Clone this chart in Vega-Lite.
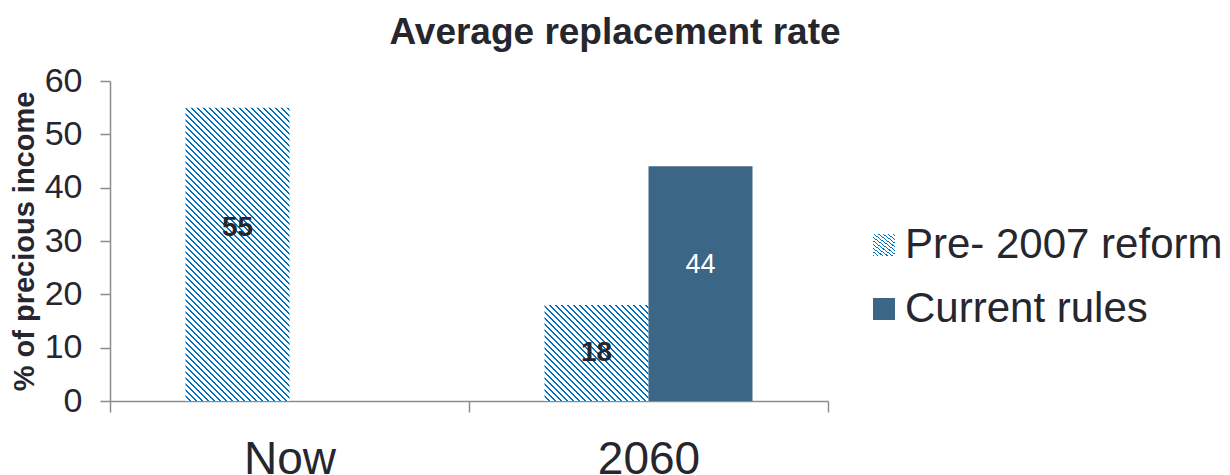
{
  "$schema": "https://vega.github.io/schema/vega-lite/v6.json",
  "width": 718,
  "height": 320,
  "autosize": {"type": "none"},
  "padding": {"left": 110, "top": 81, "right": 402, "bottom": 74},
  "background": "white",
  "config": {
    "font": "Liberation Sans",
    "view": {"stroke": null},
    "legend": {
      "orient": "none",
      "title": null,
      "padding": 0,
      "labelFontSize": 42,
      "labelColor": "#26262e",
      "labelLimit": 500,
      "labelOffset": 0,
      "symbolType": "square",
      "symbolSize": 484,
      "symbolStrokeWidth": 0
    }
  },
  "title": {
    "text": "Average replacement rate",
    "fontSize": 37,
    "fontWeight": "bold",
    "color": "#26262e",
    "frame": "group",
    "anchor": "middle",
    "baseline": "alphabetic",
    "dx": 146,
    "dy": 36,
    "offset": 19
  },
  "data": {
    "values": [
      {"period": "Now", "series": "Pre- 2007 reform", "value": 55},
      {"period": "2060", "series": "Pre- 2007 reform", "value": 18},
      {"period": "2060", "series": "Current rules", "value": 44}
    ]
  },
  "encoding": {
    "x": {
      "field": "period",
      "type": "nominal",
      "sort": ["Now", "2060"],
      "scale": {"paddingInner": 0, "paddingOuter": 0},
      "axis": {
        "title": null,
        "labelAngle": 0,
        "labelFontSize": 46,
        "labelColor": "#26262e",
        "labelPadding": 25,
        "tickBand": "extent",
        "tickSize": 11,
        "tickColor": "#8c8c8c",
        "tickWidth": 1.5,
        "domainColor": "#8c8c8c",
        "domainWidth": 1.5
      }
    },
    "xOffset": {
      "field": "series",
      "type": "nominal",
      "sort": ["Pre- 2007 reform", "Current rules"],
      "scale": {"domain": ["Pre- 2007 reform", "Current rules"], "paddingInner": 0, "paddingOuter": 0.726}
    },
    "y": {
      "field": "value",
      "type": "quantitative",
      "title": "% of precious income",
      "scale": {"domain": [0, 60], "nice": false},
      "axis": {
        "titleFontSize": 29,
        "titleFontWeight": "bold",
        "titleColor": "#26262e",
        "titlePadding": 5,
        "values": [0, 10, 20, 30, 40, 50, 60],
        "labelFontSize": 34,
        "labelColor": "#26262e",
        "labelPadding": 18,
        "tickSize": 10,
        "tickColor": "#8c8c8c",
        "tickWidth": 1.5,
        "domainColor": "#8c8c8c",
        "domainWidth": 1.5,
        "grid": false
      }
    }
  },
  "layer": [
    {
      "transform": [{"filter": "datum.series === 'Pre- 2007 reform'"}],
      "mark": {"type": "bar"},
      "encoding": {
        "color": {
          "condition": {
            "test": "datum.period === 'Now'",
            "value": {
              "gradient": "linear", "x1": 0, "y1": 1, "x2": 0.4266, "y2": -0.2033,
              "stops": [
                {"offset":0,"color":"#fff"},{"offset":0.0106,"color":"#fff"},{"offset":0.0106,"color":"#0070c0"},{"offset":0.0151,"color":"#0070c0"},
                {"offset":0.0151,"color":"#fff"},{"offset":0.0257,"color":"#fff"},{"offset":0.0257,"color":"#0070c0"},{"offset":0.0302,"color":"#0070c0"},
                {"offset":0.0302,"color":"#fff"},{"offset":0.0408,"color":"#fff"},{"offset":0.0408,"color":"#0070c0"},{"offset":0.0453,"color":"#0070c0"},
                {"offset":0.0453,"color":"#fff"},{"offset":0.0559,"color":"#fff"},{"offset":0.0559,"color":"#0070c0"},{"offset":0.0604,"color":"#0070c0"},
                {"offset":0.0604,"color":"#fff"},{"offset":0.0710,"color":"#fff"},{"offset":0.0710,"color":"#0070c0"},{"offset":0.0755,"color":"#0070c0"},
                {"offset":0.0755,"color":"#fff"},{"offset":0.0861,"color":"#fff"},{"offset":0.0861,"color":"#0070c0"},{"offset":0.0906,"color":"#0070c0"},
                {"offset":0.0906,"color":"#fff"},{"offset":0.1012,"color":"#fff"},{"offset":0.1012,"color":"#0070c0"},{"offset":0.1057,"color":"#0070c0"},
                {"offset":0.1057,"color":"#fff"},{"offset":0.1163,"color":"#fff"},{"offset":0.1163,"color":"#0070c0"},{"offset":0.1208,"color":"#0070c0"},
                {"offset":0.1208,"color":"#fff"},{"offset":0.1314,"color":"#fff"},{"offset":0.1314,"color":"#0070c0"},{"offset":0.1359,"color":"#0070c0"},
                {"offset":0.1359,"color":"#fff"},{"offset":0.1465,"color":"#fff"},{"offset":0.1465,"color":"#0070c0"},{"offset":0.1510,"color":"#0070c0"},
                {"offset":0.1510,"color":"#fff"},{"offset":0.1616,"color":"#fff"},{"offset":0.1616,"color":"#0070c0"},{"offset":0.1661,"color":"#0070c0"},
                {"offset":0.1661,"color":"#fff"},{"offset":0.1767,"color":"#fff"},{"offset":0.1767,"color":"#0070c0"},{"offset":0.1812,"color":"#0070c0"},
                {"offset":0.1812,"color":"#fff"},{"offset":0.1918,"color":"#fff"},{"offset":0.1918,"color":"#0070c0"},{"offset":0.1963,"color":"#0070c0"},
                {"offset":0.1963,"color":"#fff"},{"offset":0.2069,"color":"#fff"},{"offset":0.2069,"color":"#0070c0"},{"offset":0.2114,"color":"#0070c0"},
                {"offset":0.2114,"color":"#fff"},{"offset":0.2220,"color":"#fff"},{"offset":0.2220,"color":"#0070c0"},{"offset":0.2265,"color":"#0070c0"},
                {"offset":0.2265,"color":"#fff"},{"offset":0.2371,"color":"#fff"},{"offset":0.2371,"color":"#0070c0"},{"offset":0.2416,"color":"#0070c0"},
                {"offset":0.2416,"color":"#fff"},{"offset":0.2522,"color":"#fff"},{"offset":0.2522,"color":"#0070c0"},{"offset":0.2567,"color":"#0070c0"},
                {"offset":0.2567,"color":"#fff"},{"offset":0.2673,"color":"#fff"},{"offset":0.2673,"color":"#0070c0"},{"offset":0.2718,"color":"#0070c0"},
                {"offset":0.2718,"color":"#fff"},{"offset":0.2824,"color":"#fff"},{"offset":0.2824,"color":"#0070c0"},{"offset":0.2869,"color":"#0070c0"},
                {"offset":0.2869,"color":"#fff"},{"offset":0.2975,"color":"#fff"},{"offset":0.2975,"color":"#0070c0"},{"offset":0.3020,"color":"#0070c0"},
                {"offset":0.3020,"color":"#fff"},{"offset":0.3126,"color":"#fff"},{"offset":0.3126,"color":"#0070c0"},{"offset":0.3171,"color":"#0070c0"},
                {"offset":0.3171,"color":"#fff"},{"offset":0.3277,"color":"#fff"},{"offset":0.3277,"color":"#0070c0"},{"offset":0.3322,"color":"#0070c0"},
                {"offset":0.3322,"color":"#fff"},{"offset":0.3428,"color":"#fff"},{"offset":0.3428,"color":"#0070c0"},{"offset":0.3473,"color":"#0070c0"},
                {"offset":0.3473,"color":"#fff"},{"offset":0.3579,"color":"#fff"},{"offset":0.3579,"color":"#0070c0"},{"offset":0.3624,"color":"#0070c0"},
                {"offset":0.3624,"color":"#fff"},{"offset":0.3730,"color":"#fff"},{"offset":0.3730,"color":"#0070c0"},{"offset":0.3775,"color":"#0070c0"},
                {"offset":0.3775,"color":"#fff"},{"offset":0.3881,"color":"#fff"},{"offset":0.3881,"color":"#0070c0"},{"offset":0.3926,"color":"#0070c0"},
                {"offset":0.3926,"color":"#fff"},{"offset":0.4032,"color":"#fff"},{"offset":0.4032,"color":"#0070c0"},{"offset":0.4077,"color":"#0070c0"},
                {"offset":0.4077,"color":"#fff"},{"offset":0.4183,"color":"#fff"},{"offset":0.4183,"color":"#0070c0"},{"offset":0.4228,"color":"#0070c0"},
                {"offset":0.4228,"color":"#fff"},{"offset":0.4334,"color":"#fff"},{"offset":0.4334,"color":"#0070c0"},{"offset":0.4379,"color":"#0070c0"},
                {"offset":0.4379,"color":"#fff"},{"offset":0.4485,"color":"#fff"},{"offset":0.4485,"color":"#0070c0"},{"offset":0.4530,"color":"#0070c0"},
                {"offset":0.4530,"color":"#fff"},{"offset":0.4636,"color":"#fff"},{"offset":0.4636,"color":"#0070c0"},{"offset":0.4681,"color":"#0070c0"},
                {"offset":0.4681,"color":"#fff"},{"offset":0.4787,"color":"#fff"},{"offset":0.4787,"color":"#0070c0"},{"offset":0.4832,"color":"#0070c0"},
                {"offset":0.4832,"color":"#fff"},{"offset":0.4938,"color":"#fff"},{"offset":0.4938,"color":"#0070c0"},{"offset":0.4983,"color":"#0070c0"},
                {"offset":0.4983,"color":"#fff"},{"offset":0.5089,"color":"#fff"},{"offset":0.5089,"color":"#0070c0"},{"offset":0.5134,"color":"#0070c0"},
                {"offset":0.5134,"color":"#fff"},{"offset":0.5240,"color":"#fff"},{"offset":0.5240,"color":"#0070c0"},{"offset":0.5285,"color":"#0070c0"},
                {"offset":0.5285,"color":"#fff"},{"offset":0.5391,"color":"#fff"},{"offset":0.5391,"color":"#0070c0"},{"offset":0.5436,"color":"#0070c0"},
                {"offset":0.5436,"color":"#fff"},{"offset":0.5542,"color":"#fff"},{"offset":0.5542,"color":"#0070c0"},{"offset":0.5587,"color":"#0070c0"},
                {"offset":0.5587,"color":"#fff"},{"offset":0.5693,"color":"#fff"},{"offset":0.5693,"color":"#0070c0"},{"offset":0.5738,"color":"#0070c0"},
                {"offset":0.5738,"color":"#fff"},{"offset":0.5844,"color":"#fff"},{"offset":0.5844,"color":"#0070c0"},{"offset":0.5889,"color":"#0070c0"},
                {"offset":0.5889,"color":"#fff"},{"offset":0.5995,"color":"#fff"},{"offset":0.5995,"color":"#0070c0"},{"offset":0.6040,"color":"#0070c0"},
                {"offset":0.6040,"color":"#fff"},{"offset":0.6146,"color":"#fff"},{"offset":0.6146,"color":"#0070c0"},{"offset":0.6191,"color":"#0070c0"},
                {"offset":0.6191,"color":"#fff"},{"offset":0.6297,"color":"#fff"},{"offset":0.6297,"color":"#0070c0"},{"offset":0.6342,"color":"#0070c0"},
                {"offset":0.6342,"color":"#fff"},{"offset":0.6448,"color":"#fff"},{"offset":0.6448,"color":"#0070c0"},{"offset":0.6493,"color":"#0070c0"},
                {"offset":0.6493,"color":"#fff"},{"offset":0.6599,"color":"#fff"},{"offset":0.6599,"color":"#0070c0"},{"offset":0.6644,"color":"#0070c0"},
                {"offset":0.6644,"color":"#fff"},{"offset":0.6750,"color":"#fff"},{"offset":0.6750,"color":"#0070c0"},{"offset":0.6795,"color":"#0070c0"},
                {"offset":0.6795,"color":"#fff"},{"offset":0.6901,"color":"#fff"},{"offset":0.6901,"color":"#0070c0"},{"offset":0.6946,"color":"#0070c0"},
                {"offset":0.6946,"color":"#fff"},{"offset":0.7052,"color":"#fff"},{"offset":0.7052,"color":"#0070c0"},{"offset":0.7097,"color":"#0070c0"},
                {"offset":0.7097,"color":"#fff"},{"offset":0.7203,"color":"#fff"},{"offset":0.7203,"color":"#0070c0"},{"offset":0.7248,"color":"#0070c0"},
                {"offset":0.7248,"color":"#fff"},{"offset":0.7354,"color":"#fff"},{"offset":0.7354,"color":"#0070c0"},{"offset":0.7399,"color":"#0070c0"},
                {"offset":0.7399,"color":"#fff"},{"offset":0.7505,"color":"#fff"},{"offset":0.7505,"color":"#0070c0"},{"offset":0.7550,"color":"#0070c0"},
                {"offset":0.7550,"color":"#fff"},{"offset":0.7656,"color":"#fff"},{"offset":0.7656,"color":"#0070c0"},{"offset":0.7701,"color":"#0070c0"},
                {"offset":0.7701,"color":"#fff"},{"offset":0.7807,"color":"#fff"},{"offset":0.7807,"color":"#0070c0"},{"offset":0.7852,"color":"#0070c0"},
                {"offset":0.7852,"color":"#fff"},{"offset":0.7958,"color":"#fff"},{"offset":0.7958,"color":"#0070c0"},{"offset":0.8003,"color":"#0070c0"},
                {"offset":0.8003,"color":"#fff"},{"offset":0.8109,"color":"#fff"},{"offset":0.8109,"color":"#0070c0"},{"offset":0.8154,"color":"#0070c0"},
                {"offset":0.8154,"color":"#fff"},{"offset":0.8260,"color":"#fff"},{"offset":0.8260,"color":"#0070c0"},{"offset":0.8305,"color":"#0070c0"},
                {"offset":0.8305,"color":"#fff"},{"offset":0.8411,"color":"#fff"},{"offset":0.8411,"color":"#0070c0"},{"offset":0.8456,"color":"#0070c0"},
                {"offset":0.8456,"color":"#fff"},{"offset":0.8562,"color":"#fff"},{"offset":0.8562,"color":"#0070c0"},{"offset":0.8607,"color":"#0070c0"},
                {"offset":0.8607,"color":"#fff"},{"offset":0.8713,"color":"#fff"},{"offset":0.8713,"color":"#0070c0"},{"offset":0.8758,"color":"#0070c0"},
                {"offset":0.8758,"color":"#fff"},{"offset":0.8864,"color":"#fff"},{"offset":0.8864,"color":"#0070c0"},{"offset":0.8909,"color":"#0070c0"},
                {"offset":0.8909,"color":"#fff"},{"offset":0.9015,"color":"#fff"},{"offset":0.9015,"color":"#0070c0"},{"offset":0.9060,"color":"#0070c0"},
                {"offset":0.9060,"color":"#fff"},{"offset":0.9166,"color":"#fff"},{"offset":0.9166,"color":"#0070c0"},{"offset":0.9211,"color":"#0070c0"},
                {"offset":0.9211,"color":"#fff"},{"offset":0.9317,"color":"#fff"},{"offset":0.9317,"color":"#0070c0"},{"offset":0.9362,"color":"#0070c0"},
                {"offset":0.9362,"color":"#fff"},{"offset":0.9468,"color":"#fff"},{"offset":0.9468,"color":"#0070c0"},{"offset":0.9513,"color":"#0070c0"},
                {"offset":0.9513,"color":"#fff"},{"offset":0.9619,"color":"#fff"},{"offset":0.9619,"color":"#0070c0"},{"offset":0.9664,"color":"#0070c0"},
                {"offset":0.9664,"color":"#fff"},{"offset":0.9770,"color":"#fff"},{"offset":0.9770,"color":"#0070c0"},{"offset":0.9815,"color":"#0070c0"},
                {"offset":0.9815,"color":"#fff"},{"offset":0.9921,"color":"#fff"},{"offset":0.9921,"color":"#0070c0"},{"offset":0.9966,"color":"#0070c0"},
                {"offset":0.9966,"color":"#fff"},{"offset":1,"color":"#fff"}
              ]
            }
          },
          "value": {
            "gradient": "linear", "x1": 0, "y1": 1, "x2": 1.0383, "y2": 0.0415,
            "stops": [
              {"offset":0,"color":"#fff"},{"offset":0.021,"color":"#fff"},{"offset":0.021,"color":"#0070c0"},{"offset":0.03,"color":"#0070c0"},
              {"offset":0.03,"color":"#fff"},{"offset":0.051,"color":"#fff"},{"offset":0.051,"color":"#0070c0"},{"offset":0.06,"color":"#0070c0"},
              {"offset":0.06,"color":"#fff"},{"offset":0.081,"color":"#fff"},{"offset":0.081,"color":"#0070c0"},{"offset":0.09,"color":"#0070c0"},
              {"offset":0.09,"color":"#fff"},{"offset":0.111,"color":"#fff"},{"offset":0.111,"color":"#0070c0"},{"offset":0.12,"color":"#0070c0"},
              {"offset":0.12,"color":"#fff"},{"offset":0.141,"color":"#fff"},{"offset":0.141,"color":"#0070c0"},{"offset":0.15,"color":"#0070c0"},
              {"offset":0.15,"color":"#fff"},{"offset":0.171,"color":"#fff"},{"offset":0.171,"color":"#0070c0"},{"offset":0.18,"color":"#0070c0"},
              {"offset":0.18,"color":"#fff"},{"offset":0.201,"color":"#fff"},{"offset":0.201,"color":"#0070c0"},{"offset":0.21,"color":"#0070c0"},
              {"offset":0.21,"color":"#fff"},{"offset":0.231,"color":"#fff"},{"offset":0.231,"color":"#0070c0"},{"offset":0.24,"color":"#0070c0"},
              {"offset":0.24,"color":"#fff"},{"offset":0.261,"color":"#fff"},{"offset":0.261,"color":"#0070c0"},{"offset":0.27,"color":"#0070c0"},
              {"offset":0.27,"color":"#fff"},{"offset":0.291,"color":"#fff"},{"offset":0.291,"color":"#0070c0"},{"offset":0.30,"color":"#0070c0"},
              {"offset":0.30,"color":"#fff"},{"offset":0.321,"color":"#fff"},{"offset":0.321,"color":"#0070c0"},{"offset":0.33,"color":"#0070c0"},
              {"offset":0.33,"color":"#fff"},{"offset":0.351,"color":"#fff"},{"offset":0.351,"color":"#0070c0"},{"offset":0.36,"color":"#0070c0"},
              {"offset":0.36,"color":"#fff"},{"offset":0.381,"color":"#fff"},{"offset":0.381,"color":"#0070c0"},{"offset":0.39,"color":"#0070c0"},
              {"offset":0.39,"color":"#fff"},{"offset":0.411,"color":"#fff"},{"offset":0.411,"color":"#0070c0"},{"offset":0.42,"color":"#0070c0"},
              {"offset":0.42,"color":"#fff"},{"offset":0.441,"color":"#fff"},{"offset":0.441,"color":"#0070c0"},{"offset":0.45,"color":"#0070c0"},
              {"offset":0.45,"color":"#fff"},{"offset":0.471,"color":"#fff"},{"offset":0.471,"color":"#0070c0"},{"offset":0.48,"color":"#0070c0"},
              {"offset":0.48,"color":"#fff"},{"offset":0.501,"color":"#fff"},{"offset":0.501,"color":"#0070c0"},{"offset":0.51,"color":"#0070c0"},
              {"offset":0.51,"color":"#fff"},{"offset":0.531,"color":"#fff"},{"offset":0.531,"color":"#0070c0"},{"offset":0.54,"color":"#0070c0"},
              {"offset":0.54,"color":"#fff"},{"offset":0.561,"color":"#fff"},{"offset":0.561,"color":"#0070c0"},{"offset":0.57,"color":"#0070c0"},
              {"offset":0.57,"color":"#fff"},{"offset":0.591,"color":"#fff"},{"offset":0.591,"color":"#0070c0"},{"offset":0.60,"color":"#0070c0"},
              {"offset":0.60,"color":"#fff"},{"offset":0.621,"color":"#fff"},{"offset":0.621,"color":"#0070c0"},{"offset":0.63,"color":"#0070c0"},
              {"offset":0.63,"color":"#fff"},{"offset":0.651,"color":"#fff"},{"offset":0.651,"color":"#0070c0"},{"offset":0.66,"color":"#0070c0"},
              {"offset":0.66,"color":"#fff"},{"offset":0.681,"color":"#fff"},{"offset":0.681,"color":"#0070c0"},{"offset":0.69,"color":"#0070c0"},
              {"offset":0.69,"color":"#fff"},{"offset":0.711,"color":"#fff"},{"offset":0.711,"color":"#0070c0"},{"offset":0.72,"color":"#0070c0"},
              {"offset":0.72,"color":"#fff"},{"offset":0.741,"color":"#fff"},{"offset":0.741,"color":"#0070c0"},{"offset":0.75,"color":"#0070c0"},
              {"offset":0.75,"color":"#fff"},{"offset":0.771,"color":"#fff"},{"offset":0.771,"color":"#0070c0"},{"offset":0.78,"color":"#0070c0"},
              {"offset":0.78,"color":"#fff"},{"offset":0.801,"color":"#fff"},{"offset":0.801,"color":"#0070c0"},{"offset":0.81,"color":"#0070c0"},
              {"offset":0.81,"color":"#fff"},{"offset":0.831,"color":"#fff"},{"offset":0.831,"color":"#0070c0"},{"offset":0.84,"color":"#0070c0"},
              {"offset":0.84,"color":"#fff"},{"offset":0.861,"color":"#fff"},{"offset":0.861,"color":"#0070c0"},{"offset":0.87,"color":"#0070c0"},
              {"offset":0.87,"color":"#fff"},{"offset":0.891,"color":"#fff"},{"offset":0.891,"color":"#0070c0"},{"offset":0.90,"color":"#0070c0"},
              {"offset":0.90,"color":"#fff"},{"offset":0.921,"color":"#fff"},{"offset":0.921,"color":"#0070c0"},{"offset":0.93,"color":"#0070c0"},
              {"offset":0.93,"color":"#fff"},{"offset":0.951,"color":"#fff"},{"offset":0.951,"color":"#0070c0"},{"offset":0.96,"color":"#0070c0"},
              {"offset":0.96,"color":"#fff"},{"offset":0.981,"color":"#fff"},{"offset":0.981,"color":"#0070c0"},{"offset":0.99,"color":"#0070c0"},
              {"offset":0.99,"color":"#fff"},{"offset":1,"color":"#fff"}
            ]
          }
        },
        "opacity": {
          "field": "series",
          "type": "nominal",
          "scale": {"domain": ["Pre- 2007 reform"], "range": [1]},
          "legend": {
            "legendX": 753,
            "legendY": 143,
            "encode": {
              "symbols": {
                "fill": {
                  "value": {
                    "gradient": "linear", "x1": 0, "y1": 1, "x2": 1, "y2": 0,
                    "stops": [
                      {"offset":0,"color":"#fff"},{"offset":0.0955,"color":"#fff"},{"offset":0.0955,"color":"#0070c0"},{"offset":0.1364,"color":"#0070c0"},
                      {"offset":0.1364,"color":"#fff"},{"offset":0.2318,"color":"#fff"},{"offset":0.2318,"color":"#0070c0"},{"offset":0.2727,"color":"#0070c0"},
                      {"offset":0.2727,"color":"#fff"},{"offset":0.3682,"color":"#fff"},{"offset":0.3682,"color":"#0070c0"},{"offset":0.4091,"color":"#0070c0"},
                      {"offset":0.4091,"color":"#fff"},{"offset":0.5045,"color":"#fff"},{"offset":0.5045,"color":"#0070c0"},{"offset":0.5455,"color":"#0070c0"},
                      {"offset":0.5455,"color":"#fff"},{"offset":0.6409,"color":"#fff"},{"offset":0.6409,"color":"#0070c0"},{"offset":0.6818,"color":"#0070c0"},
                      {"offset":0.6818,"color":"#fff"},{"offset":0.7773,"color":"#fff"},{"offset":0.7773,"color":"#0070c0"},{"offset":0.8182,"color":"#0070c0"},
                      {"offset":0.8182,"color":"#fff"},{"offset":0.9136,"color":"#fff"},{"offset":0.9136,"color":"#0070c0"},{"offset":0.9545,"color":"#0070c0"},
                      {"offset":0.9545,"color":"#fff"},{"offset":1,"color":"#fff"}
                    ]
                  }
                }
              }
            }
          }
        }
      }
    },
    {
      "transform": [{"filter": "datum.series === 'Current rules'"}],
      "mark": {"type": "bar"},
      "encoding": {
        "color": {
          "field": "series",
          "type": "nominal",
          "scale": {"domain": ["Current rules"], "range": ["#3c6686"]},
          "legend": {"legendX": 753, "legendY": 207}
        }
      }
    },
    {
      "transform": [
        {"filter": "datum.series === 'Pre- 2007 reform'"},
        {"calculate": "datum.value * 0.63 - 2.3", "as": "labelPos"}
      ],
      "mark": {"type": "text", "fontSize": 28, "fontWeight": "bold", "color": "#26262e", "baseline": "middle"},
      "encoding": {
        "y": {"field": "labelPos", "type": "quantitative", "title": "% of precious income", "scale": {"domain": [0, 60], "nice": false}},
        "text": {"field": "value", "type": "quantitative"}
      }
    },
    {
      "transform": [
        {"filter": "datum.series === 'Current rules'"},
        {"calculate": "datum.value * 0.63 - 2.3", "as": "labelPos"}
      ],
      "mark": {"type": "text", "fontSize": 27, "color": "#ffffff", "baseline": "middle"},
      "encoding": {
        "y": {"field": "labelPos", "type": "quantitative", "title": "% of precious income", "scale": {"domain": [0, 60], "nice": false}},
        "text": {"field": "value", "type": "quantitative"}
      }
    }
  ]
}
